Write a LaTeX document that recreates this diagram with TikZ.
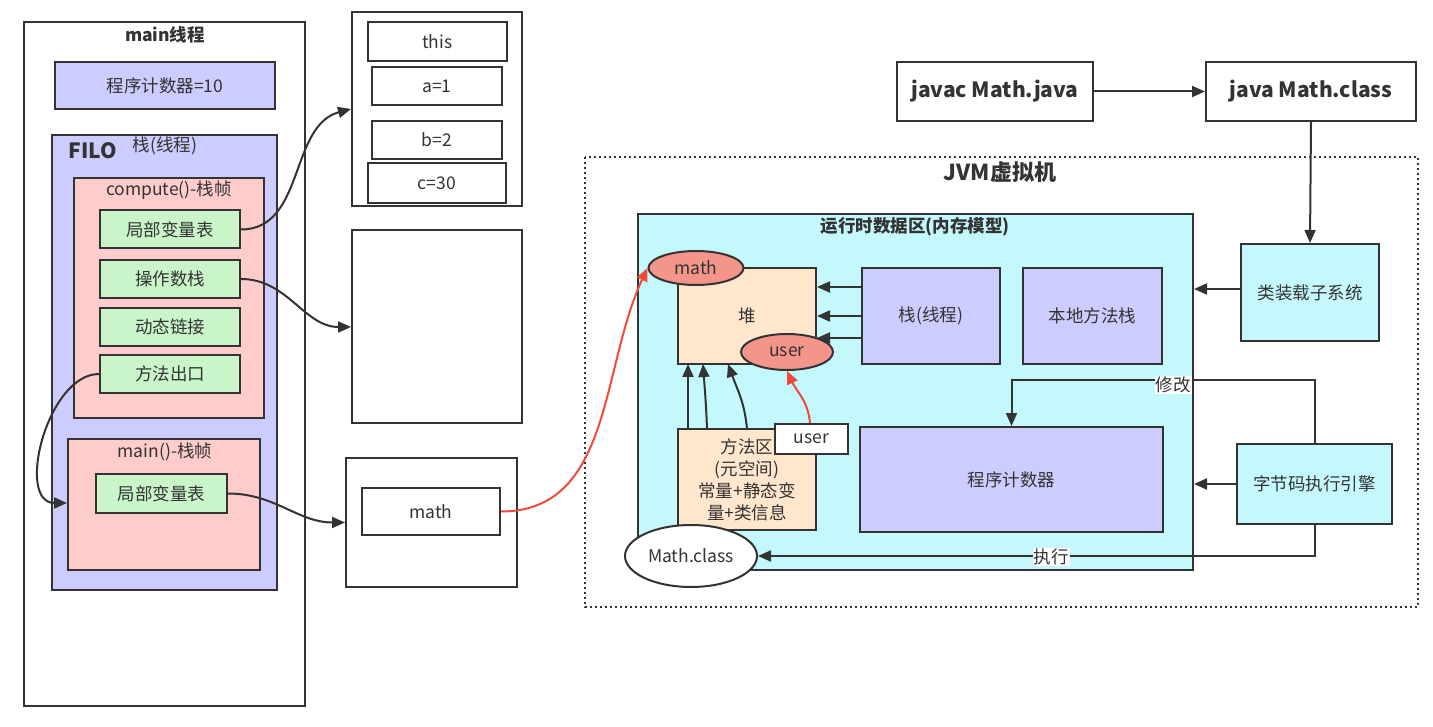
\documentclass[tikz,border=0pt]{standalone}
\usepackage{fontspec}
\setmainfont{Noto Sans CJK SC}
\usetikzlibrary{arrows.meta, shapes.geometric, positioning}

\definecolor{linegray}{HTML}{333333}
\definecolor{lavender}{HTML}{CCCCFF}
\definecolor{framepink}{HTML}{FFCCCC}
\definecolor{slotgreen}{HTML}{C9F5C9}
\definecolor{peach}{HTML}{FFE6CC}
\definecolor{areacyan}{HTML}{C4F8FC}
\definecolor{refred}{HTML}{F4958C}
\definecolor{arrowred}{HTML}{F04A3A}

\begin{document}
\begin{tikzpicture}[
    x=1pt, y=-1pt,
    font=\fontsize{17.5}{22}\selectfont,
    text=linegray,
    wh/.style 2 args={minimum width=#1pt, minimum height=#2pt},
    box/.style={draw=linegray, line width=2pt, inner sep=0pt, align=center, fill=white},
    slot/.style={box, fill=slotgreen},
    lav/.style={box, fill=lavender},
    frame/.style={box, fill=framepink},
    peachbox/.style={box, fill=peach},
    cyanbox/.style={box, fill=areacyan},
    ref/.style={ellipse, draw=linegray, line width=2pt, fill=refred, inner sep=0pt},
    title/.style={font=\bfseries\fontsize{17.5}{21}\selectfont},
    tag/.style={fill=white, inner sep=1pt},
    arr/.style={draw=linegray, line width=2pt, -{Triangle[length=13pt,width=11pt]}},
    redarr/.style={arr, draw=arrowred}
]
  \useasboundingbox (0,0) rectangle (1433,727);

  % --- MAIN THREAD (left) ---
  \node[box, wh={281}{684}] (mainthread) at (164.5,364) {};
  \node[title] (mainlbl) at (165,35) {main线程};
  \node[lav, wh={220}{47}] (pcten) at (165,85.5) {程序计数器=10};
  \node[lav, wh={225}{455}] (threadstack) at (164.5,362.5) {};
  \node[font=\bfseries\fontsize{21}{25}\selectfont] (filo) at (93,151) {FILO};
  \node (stacklbl) at (165,146) {栈(线程)};

  % compute() frame
  \node[frame, wh={190}{240}] (computeframe) at (169,298) {};
  \node (computelbl) at (169,190) {compute()-栈帧};
  \foreach \name/\txt/\y in {lvt/局部变量表/229.5, opstack/操作数栈/279,
                             dynlink/动态链接/327, retaddr/方法出口/374}
    \node[slot, wh={140}{38}] (\name) at (170,\y) {\txt};

  % main() frame
  \node[frame, wh={192}{131}] (mainframe) at (164,504.5) {};
  \node (mainframelbl) at (165,452) {main()-栈帧};
  \node[slot, wh={131}{39}] (mainlvt) at (161.5,493.5) {局部变量表};

  % --- FRAME CONTENTS (middle) ---
  \node[box, wh={170}{194}] (lvtbox) at (437,109) {};
  \node[box, wh={139}{39}] (slotthis) at (437.5,41.5) {this};
  \node[box, wh={130}{38}] (slota) at (437,86) {a=1};
  \node[box, wh={130}{38}] (slotb) at (437,140) {b=2};
  \node[box, wh={138}{40}] (slotc) at (437,183) {c=30};
  \node[box, wh={170}{193}] (opbox) at (437,326.5) {};
  \node[box, wh={171}{129}] (refbox) at (431.5,522.5) {};
  \node[box, wh={138}{47}] (mathref) at (431,511.5) {math};

  % --- COMPILE / LAUNCH ---
  \node[box, wh={196}{59}, font=\bfseries\fontsize{21}{25}\selectfont] (javac) at (995,91.5) {javac Math.java};
  \node[box, wh={210}{59}, font=\bfseries\fontsize{21}{25}\selectfont] (javarun) at (1311,91.5) {java Math.class};

  % --- JVM ---
  \draw[linegray, line width=2pt, dash pattern=on 2pt off 3pt] (585,157) rectangle (1418,607);
  \node[font=\bfseries\fontsize{22}{26}\selectfont] (jvmlbl) at (1000,172) {JVM虚拟机};

  \node[cyanbox, wh={555}{356}] (runtime) at (915.5,392) {};
  \node[title] (runtimelbl) at (915,227) {运行时数据区(内存模型)};
  \node[peachbox, wh={138}{96}] (heap) at (747,316) {堆};
  \node[lav, wh={138}{96}] (jvmstack) at (931,316) {栈(线程)};
  \node[lav, wh={139}{96}] (nativestack) at (1092.5,316) {本地方法栈};
  \node[lav, wh={303}{105}] (pc) at (1011.5,479.5) {程序计数器};
  \node[peachbox, wh={138}{101}] (methodarea) at (747,479.5) {方法区\\(元空间)\\常量+静态变\\量+类信息};
  \node[box, wh={73}{30}] (userref) at (811.5,439) {user};
  \node[ref, minimum width=95pt, minimum height=34pt] (mathobj) at (696,268) {math};
  \node[ref, minimum width=92pt, minimum height=36pt] (userobj) at (787,352) {user};
  \node[ellipse, draw=linegray, line width=2pt, fill=white, minimum width=132pt, minimum height=62pt, inner sep=0pt] (mathclass) at (691,556) {Math.class};

  \node[cyanbox, wh={138}{97}] (loader) at (1310,292.5) {类装载子系统};
  \node[cyanbox, wh={155}{80}] (engine) at (1314.5,484) {字节码执行引擎};

  % --- CONNECTORS ---
  \draw[arr] (javac) -- (javarun);
  \draw[arr] (javarun.south) -- (loader.north);
  \draw[arr] (loader.west |- 0,289) -- (runtime.east |- 0,289);
  \draw[arr] (engine.west) -- (runtime.east |- engine.west);
  \draw[arr] (engine.north) -- (engine.north |- 0,380) -| (pc.north);
  \node[tag] (modifylbl) at (1173,385) {修改};
  \draw[arr] (engine.south) |- (mathclass.east);
  \node[tag] (execlbl) at (1051,557) {执行};

  \foreach \y in {287,316,338}
    \draw[arr] (jvmstack.west |- 0,\y) -- (heap.east |- 0,\y);
  \draw[arr] (688,429) -- (688,364);
  \draw[arr] (707,429) to[out=92,in=-86] (703,364);
  \draw[arr] (747,429) to[out=95,in=-70] (728,364);
  \draw[redarr] (userref.north -| 810,0) to[out=95,in=-65] (userobj.south);
  \draw[redarr] (mathref.east) to[out=0,in=-115] (mathobj.west);

  \draw[arr] (lvt.east) to[out=0,in=195] (lvtbox.west);
  \draw[arr] (opstack.east) to[out=0,in=180] (opbox.west |- 0,327);
  \draw[arr] (retaddr.west) to[out=180,in=180] (mainframe.west |- 0,503);
  \draw[arr] (mainlvt.east) to[out=0,in=180] (refbox.west);

\end{tikzpicture}
\end{document}
